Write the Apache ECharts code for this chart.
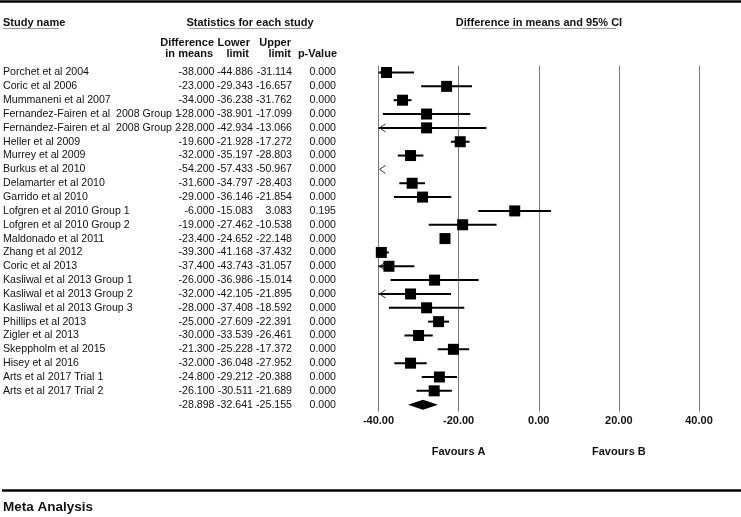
<!DOCTYPE html>
<html><head><meta charset="utf-8">
<script src="https://cdn.jsdelivr.net/npm/echarts@6/dist/echarts.min.js"></script>
<style>html,body{margin:0;padding:0;background:#fff}#c{width:741px;height:517px}</style>
</head><body><div id="c"></div>
<script>
const studyNames = [
  'Porchet et al 2004', 'Coric et al 2006', 'Mummaneni et al 2007',
  'Fernandez-Fairen et al  2008 Group 1', 'Fernandez-Fairen et al  2008 Group 2',
  'Heller et al 2009', 'Murrey et al 2009', 'Burkus et al 2010', 'Delamarter et al 2010',
  'Garrido et al 2010', 'Lofgren et al 2010 Group 1', 'Lofgren et al 2010 Group 2',
  'Maldonado et al 2011', 'Zhang et al 2012', 'Coric et al 2013',
  'Kasliwal et al 2013 Group 1', 'Kasliwal et al 2013 Group 2', 'Kasliwal et al 2013 Group 3',
  'Phillips et al 2013', 'Zigler et al 2013', 'Skeppholm et al 2015', 'Hisey et al 2016',
  'Arts et al 2017 Trial 1', 'Arts et al 2017 Trial 2'
];
const diffMeans = [-38.000, -23.000, -34.000, -28.000, -28.000, -19.600, -32.000, -54.200, -31.600,
  -29.000, -6.000, -19.000, -23.400, -39.300, -37.400, -26.000, -32.000, -28.000, -25.000,
  -30.000, -21.300, -32.000, -24.800, -26.100];
const lowerLimits = [-44.886, -29.343, -36.238, -38.901, -42.934, -21.928, -35.197, -57.433, -34.797,
  -36.146, -15.083, -27.462, -24.652, -41.168, -43.743, -36.986, -42.105, -37.408, -27.609,
  -33.539, -25.228, -36.048, -29.212, -30.511];
const upperLimits = [-31.114, -16.657, -31.762, -17.099, -13.066, -17.272, -28.803, -50.967, -28.403,
  -21.854, 3.083, -10.538, -22.148, -37.432, -31.057, -15.014, -21.895, -18.592, -22.391,
  -26.461, -17.372, -27.952, -20.388, -21.689];
const pValues = [0.000, 0.000, 0.000, 0.000, 0.000, 0.000, 0.000, 0.000, 0.000, 0.000, 0.195, 0.000,
  0.000, 0.000, 0.000, 0.000, 0.000, 0.000, 0.000, 0.000, 0.000, 0.000, 0.000, 0.000];
const overallDiff = -28.898, overallLower = -32.641, overallUpper = -25.155, overallP = 0.000;
const axisMin = -40, axisMax = 40, axisStep = 20;

const FONT = '"Liberation Sans", Arial, Helvetica, sans-serif';
const rowLabels = studyNames.concat(['']);
const data = studyNames.map((n, i) => [diffMeans[i], i, lowerLimits[i], upperLimits[i], pValues[i], 0]);
data.push([overallDiff, studyNames.length, overallLower, overallUpper, overallP, 1]);

const COL = {name: 3, diff: 214.5, low: 253, up: 292, p: 336};

function txt(text, x, y, align, bold, size) {
  return {type: 'text', style: {text: text, x: x, y: y, align: align, verticalAlign: 'middle',
    font: (bold ? 'bold ' : '') + (size || 11) + 'px ' + FONT, fill: '#111'}};
}
const ROWFS = 10.6;

const chart = echarts.init(document.getElementById('c'), null, {renderer: 'canvas'});
const option = {
  backgroundColor: '#fff',
  animation: false,
  grid: {left: 378.5, right: 42, top: 65.6, height: 346, containLabel: false},
  xAxis: {
    type: 'value', min: axisMin, max: axisMax, interval: axisStep,
    axisLine: {show: false}, axisTick: {show: false},
    splitLine: {show: true, lineStyle: {color: '#7a7a7a', width: 1}},
    axisLabel: {margin: 4, formatter: v => v.toFixed(2), fontFamily: FONT, fontWeight: 'bold', fontSize: 11, color: '#111'}
  },
  yAxis: {type: 'category', data: rowLabels, inverse: true, show: false,
    splitLine: {show: false}, axisTick: {show: false}},
  series: [{
    type: 'custom', clip: false,
    encode: {x: [0, 2, 3], y: 1},
    data: data,
    renderItem: function (params, api) {
      const i = params.dataIndex;
      const m = api.value(0), lo = api.value(2), hi = api.value(3), p = api.value(4), isOverall = api.value(5);
      const y = api.coord([0, i])[1];
      const kids = [];
      kids.push(txt(m.toFixed(3), COL.diff, y, 'right', false, ROWFS));
      kids.push(txt(rowLabels[i], COL.name, y, 'left', false, ROWFS));
      kids.push(txt(lo.toFixed(3), COL.low, y, 'right', false, ROWFS));
      kids.push(txt(hi.toFixed(3), COL.up, y, 'right', false, ROWFS));
      kids.push(txt(p.toFixed(3), COL.p, y, 'right', false, ROWFS));
      const xmin = api.coord([axisMin, i])[0];
      if (isOverall) {
        const xl = api.coord([lo, i])[0], xm = api.coord([m, i])[0], xh = api.coord([hi, i])[0];
        kids.push({type: 'polygon', shape: {points: [[xl, y], [xm, y - 5], [xh, y], [xm, y + 5]]},
          style: {fill: '#000'}});
        return {type: 'group', children: kids};
      }
      const cl = Math.max(lo, axisMin), ch = Math.min(hi, axisMax);
      if (ch > cl) {
        kids.push({type: 'line', shape: {x1: api.coord([cl, i])[0], y1: y, x2: api.coord([ch, i])[0], y2: y},
          style: {stroke: '#000', lineWidth: 2}});
      }
      if (lo < axisMin) {
        const ax = xmin + 1;
        kids.push({type: 'polyline', shape: {points: [[ax + 6, y - 4], [ax, y], [ax + 6, y + 4]]},
          style: {stroke: '#333', lineWidth: 1, fill: null}});
      }
      if (m >= axisMin && m <= axisMax) {
        const xm = api.coord([m, i])[0];
        const s = 11;
        kids.push({type: 'rect', shape: {x: xm - s / 2, y: y - s / 2, width: s, height: s}, style: {fill: '#000'}});
      }
      return {type: 'group', children: kids};
    }
  }],
  graphic: [
    {type: 'line', shape: {x1: 0, y1: 1.5, x2: 741, y2: 1.5}, style: {stroke: '#000', lineWidth: 2.5}},
    txt('Study name', 3, 22.5, 'left', true),
    {type: 'line', shape: {x1: 3, y1: 28.5, x2: 59, y2: 28.5}, style: {stroke: '#999', lineWidth: 1}},
    txt('Statistics for each study', 250, 22.5, 'center', true),
    {type: 'line', shape: {x1: 190, y1: 28.5, x2: 311, y2: 28.5}, style: {stroke: '#999', lineWidth: 1}},
    txt('Difference in means and 95% CI', 539, 22.5, 'center', true),
    {type: 'line', shape: {x1: 462, y1: 28.5, x2: 616, y2: 28.5}, style: {stroke: '#999', lineWidth: 1}},
    txt('Difference', 214, 42.5, 'right', true),
    txt('in means', 213, 54, 'right', true),
    txt('Lower', 250, 42.5, 'right', true),
    txt('limit', 249, 54, 'right', true),
    txt('Upper', 291, 42.5, 'right', true),
    txt('limit', 291, 54, 'right', true),
    txt('p-Value', 337, 54, 'right', true),
    {type: 'line', shape: {x1: 2, y1: 490.5, x2: 741, y2: 490.5}, style: {stroke: '#000', lineWidth: 2.5}},
    txt('Meta Analysis', 3, 507, 'left', true, 13.5)
  ]
};
chart.setOption(option);
const xA = chart.convertToPixel({xAxisIndex: 0}, -20);
const xB = chart.convertToPixel({xAxisIndex: 0}, 20);
chart.setOption({graphic: option.graphic.concat([
  txt('Favours A', xA, 452, 'center', true),
  txt('Favours B', xB, 452, 'center', true)
])});
</script></body></html>
